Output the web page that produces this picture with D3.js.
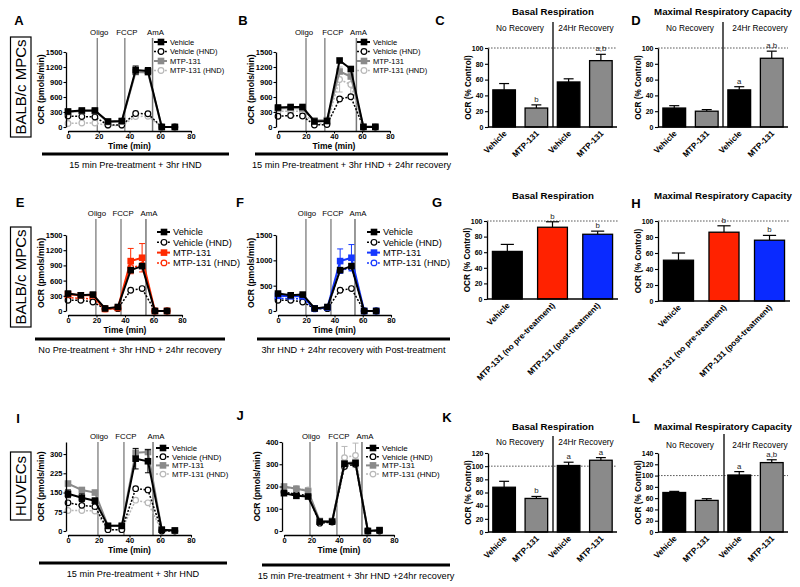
<!DOCTYPE html>
<html><head><meta charset="utf-8">
<script src="https://cdn.jsdelivr.net/npm/d3@7"></script>
<style>
body{margin:0;background:#fff}
svg{font-family:"Liberation Sans",Arial,sans-serif}
</style></head><body>
<svg id="fig" width="800" height="587"></svg>
<script>
// shared
const timeMin = [0, 9, 17.5, 26, 35, 44, 52, 61, 69.5];
const seriesNames = ['Vehicle', 'Vehicle (HND)', 'MTP-131', 'MTP-131 (HND)'];
const drugNames = ['Oligo', 'FCCP', 'AmA'];
const timeTicks = [0, 20, 40, 60, 80];
const ticksMpc = [0, 300, 600, 900, 1200, 1500];
const ticksF = [0, 500, 1000, 1500];
const ticksHuvec = [0, 75, 150, 225, 300];
const ticksJ = [0, 100, 200, 300, 400];

// A
const aVehicle    = [310, 330, 330, 110, 120, 1140, 1120, 0, 0];
const aVehicleHND = [220, 210, 200, 40, 40, 270, 265, 0, 0];
const aMtp        = [300, 320, 320, 100, 110, 1100, 1090, 0, 0];
const aMtpHND     = [70, 80, 80, 30, 30, 210, 215, 0, 0];
const aVehicleErr = [20, 20, 20, 10, 10, 80, 70, 0, 0];
const aDrugs = [19, 37, 55];
// B
const bVehicle    = [390, 400, 400, 110, 120, 1330, 1160, 0, 0];
const bVehicleHND = [215, 230, 220, 40, 50, 560, 605, 0, 0];
const bMtp        = [370, 380, 370, 130, 140, 1110, 1010, 10, 10];
const bMtpHND     = [310, 320, 310, 60, 70, 950, 850, 0, 0];
const bMtpHNDErr  = [30, 30, 30, 20, 20, 250, 250, 0, 0];
const bDrugs = [20, 33.5, 56];
// E
const eVehicle    = [344, 310, 324, 50, 79, 806, 886, 0, 0];
const eVehicleHND = [211, 211, 178, 46, 46, 410, 443, 0, 0];
const eMtp        = [330, 310, 310, 40, 60, 985, 1051, 0, 0];
const eMtpHND     = [264, 250, 240, 40, 55, 860, 900, 0, 0];
const eMtpErr     = [20, 20, 20, 10, 10, 250, 280, 0, 0];
const eDrugs = [19.6, 37.2, 54.7];
// F
const fVehicle    = [344, 310, 324, 50, 79, 806, 886, 0, 0];
const fVehicleHND = [211, 211, 178, 46, 46, 410, 443, 0, 0];
const fMtp        = [300, 290, 290, 50, 70, 985, 1051, 0, 0];
const fMtpHND     = [250, 240, 240, 40, 60, 800, 850, 0, 0];
const fMtpErr     = [20, 20, 20, 10, 10, 240, 260, 0, 0];
const fDrugs = [19.8, 37.5, 54.5];
// I
const iVehicle    = [145, 130, 118, 20, 20, 282, 272, 5, 2];
const iVehicleHND = [110, 100, 95, 5, 5, 165, 160, 0, 0];
const iMtp        = [185, 160, 150, 20, 20, 305, 308, 5, 2];
const iMtpHND     = [80, 80, 78, 5, 5, 120, 110, 0, 0];
const iVehicleErr = [15, 15, 10, 5, 5, 40, 45, 3, 2];
const iDrugs = [19.5, 36.4, 55.3];
// J
const jVehicle    = [170, 158, 155, 42, 42, 302, 305, 0, 3];
const jVehicleHND = [175, 165, 160, 35, 40, 290, 300, 0, 0];
const jMtp        = [200, 190, 180, 45, 45, 305, 310, 0, 5];
const jMtpHND     = [195, 190, 185, 40, 45, 330, 340, 0, 0];
const jMtpHNDErr  = [10, 10, 10, 5, 5, 50, 55, 0, 0];
const jDrugs = [18.9, 38.5, 56.7];

// bars
const recoveryCats = ['Vehicle', 'MTP-131', 'Vehicle', 'MTP-131'];
const treatCats = ['Vehicle', 'MTP-131  (no pre-treatment)', 'MTP-131 (post-treatment)'];
const cValues = [47, 24, 57, 84], cErr = [8, 4, 4, 8], cNotes = ['', 'b', '', 'a,b'];
const dValues = [24, 20, 47, 87], dErr = [3, 2, 4, 9], dNotes = ['', '', 'a', 'a,b'];
const gValues = [61, 92, 83], gErr = [9, 7, 4], gNotes = ['', 'b', 'b'];
const hValues = [51, 86, 76], hErr = [9, 8, 6], hNotes = ['', 'b', 'b'];
const kValues = [68, 51, 101, 109], kErr = [9, 3, 5, 4], kNotes = ['', 'b', 'a', 'a'];
const lValues = [70, 56, 101, 123], lErr = [2, 3, 6, 5], lNotes = ['', '', 'a', 'a,b'];

const svg = d3.select('#fig');
const GRAY = '#8a8a8a', LIGHT = '#b8b8b8', RED = '#ff2a00', BLUE = '#1638ff';

function text(g, x, y, s, size, opts = {}) {
  return g.append('text').attr('x', x).attr('y', y).text(s)
    .attr('font-size', size).attr('font-weight', opts.bold ? 'bold' : 'normal')
    .attr('text-anchor', opts.anchor || 'middle').attr('fill', opts.fill || '#000');
}

function styleAxis(sel, size) {
  sel.select('.domain').attr('stroke', '#000').attr('stroke-width', 1.3);
  sel.selectAll('.tick line').attr('stroke', '#000').attr('stroke-width', 1.1);
  sel.selectAll('.tick text').attr('font-size', size).attr('font-weight', 'bold')
    .attr('font-family', '"Liberation Sans",Arial,sans-serif').attr('fill', '#000');
}

function marker(g, cx, cy, st) {
  if (st.open) {
    g.append('circle').attr('cx', cx).attr('cy', cy).attr('r', 2.8)
      .attr('fill', '#fff').attr('stroke', st.color).attr('stroke-width', 1.2);
  } else {
    g.append('rect').attr('x', cx - 3.3).attr('y', cy - 3.3).attr('width', 6.6).attr('height', 6.6)
      .attr('fill', st.color);
  }
}

function linePanel(c) {
  const g = svg.append('g');
  const x = d3.scaleLinear([0, 80], [c.left, c.right]);
  const y = d3.scaleLinear([0, c.yMax], [c.bottom, c.top]);
  const styles = [
    { color: '#000', dash: null, open: false, w: 2 },
    { color: '#000', dash: '2,1.6', open: true, w: 1.5 },
    { color: c.mtp, dash: null, open: false, w: 2 },
    { color: c.mtpHND, dash: '2,1.6', open: true, w: 1.5 }
  ];

  c.drugs.forEach((t, i) => {
    g.append('line').attr('x1', x(t)).attr('x2', x(t)).attr('y1', c.drugTop).attr('y2', c.bottom + 4)
      .attr('stroke', i === 2 ? '#777' : '#555').attr('stroke-width', i === 2 ? 1.5 : 1);
    text(g, x(t) + c.labelShift[i], c.drugTop - 3, drugNames[i], 7.8);
  });

  const line = d3.line().x((d, i) => x(timeMin[i])).y(d => y(d));
  [3, 1, 2, 0].forEach(k => {
    const st = styles[k], vals = c.series[k], err = c.errs[k];
    g.append('path').attr('d', line(vals)).attr('fill', 'none')
      .attr('stroke', st.color).attr('stroke-width', st.w).attr('stroke-dasharray', st.dash);
    if (err) {
      vals.forEach((v, i) => {
        if (!err[i]) return;
        const xx = x(timeMin[i]);
        g.append('line').attr('x1', xx).attr('x2', xx).attr('y1', y(v - err[i])).attr('y2', y(v + err[i]))
          .attr('stroke', st.color).attr('stroke-width', 1);
        [v - err[i], v + err[i]].forEach(e => g.append('line').attr('x1', xx - 3).attr('x2', xx + 3)
          .attr('y1', y(e)).attr('y2', y(e)).attr('stroke', st.color).attr('stroke-width', 1));
      });
    }
    vals.forEach((v, i) => marker(g, x(timeMin[i]), y(v), st));
  });

  const ya = g.append('g').attr('transform', `translate(${c.left - 2},0)`)
    .call(d3.axisLeft(y).tickValues(c.yTicks).tickFormat(d3.format('d'))
      .tickSize(2.5).tickSizeOuter(0).tickPadding(1));
  styleAxis(ya, 7.5);
  const xa = g.append('g').attr('transform', `translate(0,${c.bottom + 4})`)
    .call(d3.axisBottom(x).tickValues(timeTicks).tickSize(2.5).tickSizeOuter(0).tickPadding(0.5));
  styleAxis(xa, 7.5);

  g.append('text').attr('transform', `translate(${c.left - 24},${(c.top + c.bottom) / 2}) rotate(-90)`)
    .attr('text-anchor', 'middle').attr('font-size', 8.6).attr('font-weight', 'bold').text('OCR (pmols/min)');
  text(g, (c.left + c.right) / 2, c.bottom + 22, 'Time (min)', 8.5, { bold: true });

  seriesNames.forEach((s, k) => {
    const st = styles[k], ly = c.legendY + k * c.legendDy;
    g.append('line').attr('x1', c.legendX - 7).attr('x2', c.legendX + 6).attr('y1', ly).attr('y2', ly)
      .attr('stroke', st.color).attr('stroke-width', st.w).attr('stroke-dasharray', st.dash);
    marker(g, c.legendX, ly, st);
    text(g, c.legendX + 9, ly + c.legendFont * 0.36, s, c.legendFont, { anchor: 'start' });
  });

  g.append('line').attr('x1', c.capX1).attr('x2', c.capX2).attr('y1', c.capY).attr('y2', c.capY)
    .attr('stroke', '#000').attr('stroke-width', 3);
  text(g, (c.capX1 + c.capX2) / 2, c.capY + 14, c.caption, 9.2);
}

function barPanel(c) {
  const g = svg.append('g');
  const x = d3.scaleBand(d3.range(c.values.length), [c.left, c.right]).paddingInner(c.padIn).paddingOuter(c.padOut);
  const y = d3.scaleLinear([0, c.yMax], [c.bottom, c.top]);
  const bw = x.bandwidth();

  g.append('line').attr('x1', c.left).attr('x2', c.right).attr('y1', y(100)).attr('y2', y(100))
    .attr('stroke', '#333').attr('stroke-width', 0.8).attr('stroke-dasharray', '1.6,1.4');
  if (c.divider) {
    g.append('line').attr('x1', c.divider).attr('x2', c.divider).attr('y1', c.divTop).attr('y2', c.bottom)
      .attr('stroke', '#000').attr('stroke-width', 1.3);
  }
  c.values.forEach((v, i) => {
    const cx = x(i) + bw / 2, top = y(v + c.err[i]);
    g.append('line').attr('x1', cx).attr('x2', cx).attr('y1', y(v)).attr('y2', top)
      .attr('stroke', '#000').attr('stroke-width', 1.2);
    g.append('line').attr('x1', cx - bw * 0.22).attr('x2', cx + bw * 0.22).attr('y1', top).attr('y2', top)
      .attr('stroke', '#000').attr('stroke-width', 1.2);
    if (c.notes[i]) text(g, cx, top - 3, c.notes[i], 7.8, { fill: '#222' });
  });
  g.selectAll(null).data(c.values).join('rect')
    .attr('x', (d, i) => x(i)).attr('y', d => y(d)).attr('width', bw).attr('height', d => y(0) - y(d))
    .attr('fill', (d, i) => c.colors[i]).attr('stroke', '#000').attr('stroke-width', 1.3);

  const ya = g.append('g').attr('transform', `translate(${c.left},0)`)
    .call(d3.axisLeft(y).tickValues(d3.range(0, c.yMax + 1, 20)).tickSize(3).tickSizeOuter(0).tickPadding(1.5));
  styleAxis(ya, 7);
  g.append('line').attr('x1', c.left).attr('x2', c.right).attr('y1', y(0)).attr('y2', y(0))
    .attr('stroke', '#000').attr('stroke-width', 1.3);

  c.cats.forEach((s, i) => {
    g.append('text').attr('transform', `translate(${x(i) + bw / 2 + 3},${y(0) + 7}) rotate(-45)`)
      .attr('text-anchor', 'end').attr('font-size', 8.2).attr('font-weight', 'bold').text(s);
  });
  g.append('text').attr('transform', `translate(${c.left - 17},${(c.top + c.bottom) / 2}) rotate(-90)`)
    .attr('text-anchor', 'middle').attr('font-size', 8.2).attr('font-weight', 'bold').text('OCR (% Control)');
  text(g, c.titleX, c.titleY, c.title, 9.7, { bold: true });
  if (c.subs) {
    text(g, c.subs[0], c.subY, 'No Recovery', 8.3);
    text(g, c.subs[1], c.subY, '24Hr Recovery', 8.3);
  }
}

// panel letters
[['A', 19, 25], ['B', 243, 25], ['C', 440, 25], ['D', 636, 25],
 ['E', 20, 207], ['F', 240, 207], ['G', 437, 207], ['H', 636, 208],
 ['I', 18, 423], ['J', 240, 420], ['K', 447, 422], ['L', 636, 423]]
  .forEach(([s, x, y]) => text(svg, x, y, s, 13, { bold: true }));

// cell labels in boxes
[['BALB/c MPCs', 37, 137], ['BALB/c MPCs', 227, 327], ['HUVECs', 452, 520]].forEach(([s, y1, y2]) => {
  svg.append('rect').attr('x', 10.5).attr('y', y1).attr('width', 20.5).attr('height', y2 - y1)
    .attr('fill', 'none').attr('stroke', '#000').attr('stroke-width', 1.2);
  svg.append('text').attr('transform', `translate(26,${(y1 + y2) / 2}) rotate(-90)`)
    .attr('text-anchor', 'middle').attr('font-size', 15).text(s);
});

const grayLook = { mtp: GRAY, mtpHND: LIGHT };
linePanel({ ...grayLook, left: 68, right: 191, top: 52, bottom: 127, yMax: 1500, yTicks: ticksMpc,
  series: [aVehicle, aVehicleHND, aMtp, aMtpHND], errs: [aVehicleErr, null, null, null], drugs: aDrugs,
  drugTop: 38, labelShift: [2, 2, 3], legendX: 161, legendY: 42, legendDy: 9.5, legendFont: 7.5,
  capX1: 42, capX2: 229, capY: 154, caption: '15 min Pre-treatment + 3hr HND' });
linePanel({ ...grayLook, left: 278, right: 390, top: 52, bottom: 127, yMax: 1500, yTicks: ticksMpc,
  series: [bVehicle, bVehicleHND, bMtp, bMtpHND], errs: [null, null, null, bMtpHNDErr], drugs: bDrugs,
  drugTop: 38, labelShift: [-2, 8, 2], legendX: 364, legendY: 42, legendDy: 9.5, legendFont: 7.5,
  capX1: 255, capX2: 448, capY: 154, caption: '15 min Pre-treatment + 3hr HND + 24hr recovery' });
linePanel({ mtp: RED, mtpHND: RED, left: 68, right: 182, top: 235, bottom: 311, yMax: 1500, yTicks: ticksMpc,
  series: [eVehicle, eVehicleHND, eMtp, eMtpHND], errs: [null, null, eMtpErr, null], drugs: eDrugs,
  drugTop: 219, labelShift: [1, 2, 3], legendX: 164, legendY: 232, legendDy: 10.3, legendFont: 9.3,
  capX1: 35, capX2: 225, capY: 339, caption: 'No Pre-treatment + 3hr HND + 24hr recovery' });
linePanel({ mtp: BLUE, mtpHND: BLUE, left: 278, right: 391, top: 235, bottom: 311, yMax: 1500, yTicks: ticksF,
  series: [fVehicle, fVehicleHND, fMtp, fMtpHND], errs: [null, null, fMtpErr, null], drugs: fDrugs,
  drugTop: 219, labelShift: [1, 2, 3], legendX: 374, legendY: 232, legendDy: 10.3, legendFont: 9.3,
  capX1: 257, capX2: 450, capY: 339, caption: '3hr HND + 24hr recovery with Post-treatment' });
linePanel({ ...grayLook, left: 68, right: 191, top: 442, bottom: 531, yMax: 347, yTicks: ticksHuvec,
  series: [iVehicle, iVehicleHND, iMtp, iMtpHND], errs: [iVehicleErr, null, null, null], drugs: iDrugs,
  drugTop: 442, labelShift: [1, 2, 3], legendX: 163, legendY: 448, legendDy: 8.7, legendFont: 7.8,
  capX1: 39, capX2: 227, capY: 563, caption: '15 min Pre-treatment + 3hr HND' });
linePanel({ ...grayLook, left: 284, right: 394, top: 442, bottom: 531, yMax: 400, yTicks: ticksJ,
  series: [jVehicle, jVehicleHND, jMtp, jMtpHND], errs: [null, null, null, jMtpHNDErr], drugs: jDrugs,
  drugTop: 442, labelShift: [1, 2, 3], legendX: 373, legendY: 448, legendDy: 8.7, legendFont: 8,
  capX1: 262, capX2: 450, capY: 565, caption: '15 min Pre-treatment + 3hr HND +24hr recovery' });

const recColors = ['#000', GRAY, '#000', GRAY];
const treatColors = ['#000', '#ff2200', '#0a2aff'];
barPanel({ values: cValues, err: cErr, notes: cNotes, cats: recoveryCats, colors: recColors,
  left: 488, right: 617, padIn: 0.3, padOut: 0.15, top: 48, bottom: 127, yMax: 100,
  divider: 553, divTop: 22, title: 'Basal Respiration', titleX: 553, titleY: 15, subs: [520, 586], subY: 31 });
barPanel({ values: dValues, err: dErr, notes: dNotes, cats: recoveryCats, colors: recColors,
  left: 658, right: 788, padIn: 0.3, padOut: 0.15, top: 48, bottom: 127, yMax: 100,
  divider: 723, divTop: 22, title: 'Maximal Respiratory Capacity', titleX: 723, titleY: 15, subs: [690, 760], subY: 31 });
barPanel({ values: gValues, err: gErr, notes: gNotes, cats: treatCats, colors: treatColors,
  left: 487, right: 618, padIn: 0.34, padOut: 0.12, top: 221, bottom: 299, yMax: 100,
  title: 'Basal Respiration', titleX: 553, titleY: 199 });
barPanel({ values: hValues, err: hErr, notes: hNotes, cats: treatCats, colors: treatColors,
  left: 658, right: 790, padIn: 0.34, padOut: 0.12, top: 221, bottom: 301, yMax: 100,
  title: 'Maximal Respiratory Capacity', titleX: 723, titleY: 199 });
barPanel({ values: kValues, err: kErr, notes: kNotes, cats: recoveryCats, colors: recColors,
  left: 488, right: 617, padIn: 0.3, padOut: 0.15, top: 453, bottom: 532, yMax: 120,
  divider: 553, divTop: 436, title: 'Basal Respiration', titleX: 553, titleY: 430, subs: [520, 586], subY: 445 });
barPanel({ values: lValues, err: lErr, notes: lNotes, cats: recoveryCats, colors: recColors,
  left: 658, right: 788, padIn: 0.3, padOut: 0.15, top: 453, bottom: 532, yMax: 140,
  divider: 724, divTop: 434, title: 'Maximal Respiratory Capacity', titleX: 723, titleY: 430, subs: [690, 760], subY: 448 });
</script>
</body></html>
